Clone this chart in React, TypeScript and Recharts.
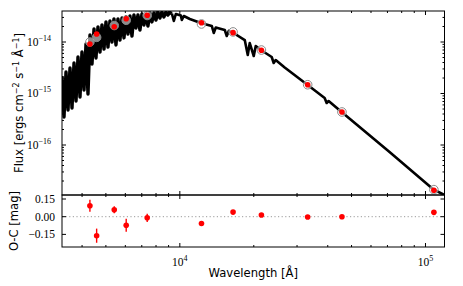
import React from 'react';
import {
  ComposedChart,
  Line,
  Scatter,
  XAxis,
  YAxis,
  ErrorBar,
  ReferenceLine,
} from 'recharts';

// model spectrum (wavelength in Å, flux in ergs/cm2/s/Å)
// noisy blue part
const noisyWave = [
  3314, 3377, 3441, 3506, 3572, 3640, 3709, 3779, 3850, 3923, 3997, 4073,
  4150, 4228, 4308, 4390, 4473, 4557, 4643, 4731, 4821, 4912, 5005, 5099,
  5196, 5294, 5394, 5496, 5600, 5706, 5814, 5924, 6036, 6150, 6266, 6385,
  6505, 6628, 6754, 6881, 7011, 7144, 7279, 7416, 7556, 7699, 7845, 7993,
  8144, 8298, 8455, 8615, 8777, 8943, 9112, 9279,
];
const noisyFlux = [
  2.19e-15, 3.5e-16, 2.62e-15, 4.78e-16, 3.13e-15, 5.23e-16, 3.91e-15,
  7.15e-16, 5.11e-15, 8.55e-16, 6.39e-15, 1.17e-15, 9.14e-15, 9.78e-16,
  1.37e-14, 3.74e-15, 1.79e-14, 4.89e-15, 1.96e-14, 6.39e-15, 2.14e-14,
  7.31e-15, 2.45e-14, 8.0e-15, 2.56e-14, 1.0e-14, 2.8e-14, 8.75e-15, 2.8e-14,
  1.09e-14, 2.92e-14, 1.2e-14, 3.06e-14, 1.43e-14, 3.2e-14, 1.31e-14,
  3.34e-14, 1.87e-14, 3.34e-14, 1.71e-14, 3.5e-14, 2.14e-14, 3.5e-14,
  2.05e-14, 3.66e-14, 2.45e-14, 3.66e-14, 2.67e-14, 3.82e-14, 2.92e-14,
  3.82e-14, 3.06e-14, 3.82e-14, 3.34e-14, 3.74e-14, 3.58e-14,
];
// smoother red / infrared part
const smoothWave = [
  9279, 9454, 9633, 10094, 10189, 10381, 10980, 12173, 13490, 13745, 14005,
  15236, 15524, 15817, 16425, 18377, 18901, 19258, 19993, 20371, 21544,
  23659, 24106, 24563, 26722, 33145, 38859, 39594, 40341, 45558, 71398,
  107781, 119468,
];
const smoothFlux = [
  3.58e-14, 2.56e-14, 3.5e-14, 3.27e-14, 2.67e-14, 3.2e-14, 2.8e-14,
  2.34e-14, 2.05e-14, 1.5e-14, 1.91e-14, 1.71e-14, 1.31e-14, 1.64e-14,
  1.53e-14, 1.09e-14, 5.59e-15, 9.56e-15, 5.35e-15, 8.36e-15, 6.84e-15,
  5.11e-15, 3.91e-15, 4.47e-15, 3.2e-15, 1.46e-15, 8.18e-16, 6.54e-16,
  7.15e-16, 4.37e-16, 7.31e-17, 1.37e-17, 1.07e-17,
];

// photometry
const photWave = [4305, 4585, 5408, 6049, 7365, 12250, 16470, 21480, 33140, 45700, 108200];
const photFlux = [
  9.15e-15, 1.43e-14, 1.98e-14, 2.83e-14, 3.3e-14, 2.37e-14, 1.52e-14, 6.9e-15,
  1.48e-15, 4.38e-16, 1.32e-17,
];
const modelFlux = [
  9.99e-15, 1.23e-14, 2.09e-14, 2.64e-14, 3.27e-14, 2.24e-14, 1.57e-14, 6.99e-15,
  1.48e-15, 4.38e-16, 1.36e-17,
];
const resid = [0.093, -0.161, 0.059, -0.073, -0.009, -0.058, 0.039, 0.015, -0.002, 0.0, 0.037];
const residErr = [0.05, 0.06, 0.03, 0.055, 0.035, 0.015, 0.015, 0.015, 0.01, 0.01, 0.02];

// axis ticks
const xTicks = [4000, 5000, 6000, 7000, 8000, 9000, 1e4, 2e4, 3e4, 4e4, 5e4, 6e4, 7e4, 8e4, 9e4, 1e5];
const xMajor = [1e4, 1e5];
const fluxTicks = [
  2e-17, 3e-17, 4e-17, 5e-17, 6e-17, 7e-17, 8e-17, 9e-17, 1e-16,
  2e-16, 3e-16, 4e-16, 5e-16, 6e-16, 7e-16, 8e-16, 9e-16, 1e-15,
  2e-15, 3e-15, 4e-15, 5e-15, 6e-15, 7e-15, 8e-15, 9e-15, 1e-14,
  2e-14, 3e-14,
];
const fluxMajor = [1e-16, 1e-15, 1e-14];
const resTicks = [-0.15, 0, 0.15];
const resLabels = ['−0.15', '0.00', '0.15'];

const noisy = noisyWave.map((w, i) => ({ wave: w, flux: noisyFlux[i] }));
const smooth = smoothWave.map((w, i) => ({ wave: w, flux: smoothFlux[i] }));
const phot = photWave.map((w, i) => ({
  wave: w,
  flux: photFlux[i],
  model: modelFlux[i],
  res: resid[i],
  err: residErr[i],
}));

const W = 463;
const LEFT = 62;
const RIGHT = 444.5;
const TOP = 11;
const MID = 195;
const BOT = 247;
const OFF = 12; // headroom above the residual panel so its labels are not cut
const BOT_H = 286 - MID + OFF;

const serif = 'Liberation Serif, serif';
const sans = 'DejaVu Sans, sans-serif';

const expLabel = (v: number) => {
  const e = Math.round(Math.log10(v));
  return e < 0 ? '−' + Math.abs(e) : String(e);
};

const TopXTick = (props: any) => {
  const { x, payload } = props;
  const len = xMajor.includes(payload.value) ? 4 : 2;
  return (
    <g>
      <line x1={x} x2={x} y1={MID} y2={MID - len} stroke="#000" />
      <line x1={x} x2={x} y1={TOP} y2={TOP + len} stroke="#000" />
    </g>
  );
};

const BotXTick = (props: any) => {
  const { x, payload } = props;
  const major = xMajor.includes(payload.value);
  const len = major ? 4 : 2;
  const top = OFF;
  const bot = OFF + BOT - MID;
  return (
    <g>
      <line x1={x} x2={x} y1={top} y2={top + len} stroke="#000" />
      <line x1={x} x2={x} y1={bot} y2={bot - len} stroke="#000" />
      {major && (
        <text x={x} y={266 - MID + OFF} textAnchor="middle" fontFamily={serif} fontSize={11.5} fill="#000">
          10
          <tspan dy={-5} fontSize={8}>
            {expLabel(payload.value)}
          </tspan>
        </text>
      )}
    </g>
  );
};

const FluxTick = (props: any) => {
  const { y, payload } = props;
  const major = fluxMajor.includes(payload.value);
  const len = major ? 4 : 2;
  return (
    <g>
      <line x1={LEFT} x2={LEFT + len} y1={y} y2={y} stroke="#000" />
      <line x1={RIGHT} x2={RIGHT - len} y1={y} y2={y} stroke="#000" />
      {major && (
        <text x={51} y={y + 3.5} textAnchor="end" fontFamily={serif} fontSize={11.5} fill="#000">
          10
          <tspan dy={-5} fontSize={8}>
            {expLabel(payload.value)}
          </tspan>
        </text>
      )}
    </g>
  );
};

const ResTick = (props: any) => {
  const { y, payload } = props;
  const idx = resTicks.indexOf(payload.value);
  return (
    <g>
      <line x1={LEFT} x2={LEFT + 4} y1={y} y2={y} stroke="#000" />
      <line x1={RIGHT} x2={RIGHT - 4} y1={y} y2={y} stroke="#000" />
      <text x={55} y={y + 4} textAnchor="end" fontFamily={serif} fontSize={11.5} fill="#000">
        {resLabels[idx]}
      </text>
    </g>
  );
};

const RedDot = (p: any) => <circle cx={p.cx} cy={p.cy} r={2.8} fill="#ff0000" />;
const Ring = (p: any) => (
  <circle cx={p.cx} cy={p.cy} r={4.3} fill="#ffffff" fillOpacity={0.55} stroke="#8a8a8a" strokeWidth={1} />
);

const App: React.FC = () => {
  return (
    <div style={{ position: 'absolute', left: 0, top: 0, width: W, height: 286, background: '#fff' }}>
      <div style={{ position: 'absolute', left: 0, top: 0 }}>
        <ComposedChart
          width={W}
          height={MID + 1}
          margin={{ top: TOP, right: W - RIGHT, bottom: 0, left: LEFT - 1 }}
        >
          <XAxis
            type="number"
            dataKey="wave"
            scale="log"
            domain={[3314, 119500]}
            allowDataOverflow
            ticks={xTicks}
            interval={0}
            height={1}
            axisLine={false}
            tickLine={false}
            tick={TopXTick}
          />
          <YAxis
            type="number"
            scale="log"
            domain={[1.07e-17, 4e-14]}
            allowDataOverflow
            ticks={fluxTicks}
            interval={0}
            width={1}
            axisLine={false}
            tickLine={false}
            tick={FluxTick}
          />
          <Line
            data={noisy}
            dataKey="flux"
            type="linear"
            stroke="#000"
            strokeWidth={3.4}
            strokeLinejoin="round"
            dot={false}
            isAnimationActive={false}
          />
          <Line
            data={smooth}
            dataKey="flux"
            type="linear"
            stroke="#000"
            strokeWidth={2.6}
            strokeLinejoin="round"
            dot={false}
            isAnimationActive={false}
          />
          <Scatter data={phot} dataKey="model" shape={Ring} isAnimationActive={false} />
          <Scatter data={phot} dataKey="flux" shape={RedDot} isAnimationActive={false} />
        </ComposedChart>
      </div>
      <div style={{ position: 'absolute', left: 0, top: MID - OFF }}>
        <ComposedChart
          width={W}
          height={BOT_H}
          margin={{ top: OFF, right: W - RIGHT, bottom: BOT_H - OFF - (BOT - MID) - 1, left: LEFT - 1 }}
        >
          <XAxis
            type="number"
            dataKey="wave"
            scale="log"
            domain={[3314, 119500]}
            allowDataOverflow
            ticks={xTicks}
            interval={0}
            height={1}
            axisLine={false}
            tickLine={false}
            tick={BotXTick}
          />
          <YAxis
            type="number"
            domain={[-0.257, 0.184]}
            allowDataOverflow
            ticks={resTicks}
            interval={0}
            width={1}
            axisLine={false}
            tickLine={false}
            tick={ResTick}
          />
          <ReferenceLine y={0} stroke="#9a9a9a" strokeDasharray="1.2 2.4" />
          <Scatter data={phot} dataKey="res" shape={RedDot} isAnimationActive={false}>
            <ErrorBar dataKey="err" direction="y" width={0} stroke="#ff0000" strokeWidth={1.4} isAnimationActive={false} />
          </Scatter>
        </ComposedChart>
      </div>
      <svg
        width={W}
        height={286}
        style={{ position: 'absolute', left: 0, top: 0, pointerEvents: 'none' }}
      >
        <rect x={LEFT} y={TOP} width={RIGHT - LEFT} height={MID - TOP} fill="none" stroke="#000" />
        <rect x={LEFT} y={MID} width={RIGHT - LEFT} height={BOT - MID} fill="none" stroke="#000" />
        <text
          transform={`translate(22.5, ${(TOP + MID) / 2}) rotate(-90)`}
          textAnchor="middle"
          fontFamily={sans}
          fontSize={11.6}
          fill="#000"
        >
          Flux [ergs cm<tspan dy={-4} fontSize={8}>−2</tspan>
          <tspan dy={4}> s</tspan>
          <tspan dy={-4} fontSize={8}>−1</tspan>
          <tspan dy={4}> Å</tspan>
          <tspan dy={-4} fontSize={8}>−1</tspan>
          <tspan dy={4}>]</tspan>
        </text>
        <text
          transform={`translate(17.5, ${(MID + BOT) / 2}) rotate(-90)`}
          textAnchor="middle"
          fontFamily={sans}
          fontSize={11.6}
          fill="#000"
        >
          O-C [mag]
        </text>
        <text x={(LEFT + RIGHT) / 2} y={277} textAnchor="middle" fontFamily={sans} fontSize={11.6} fill="#000">
          Wavelength [Å]
        </text>
      </svg>
    </div>
  );
};

export default App;
